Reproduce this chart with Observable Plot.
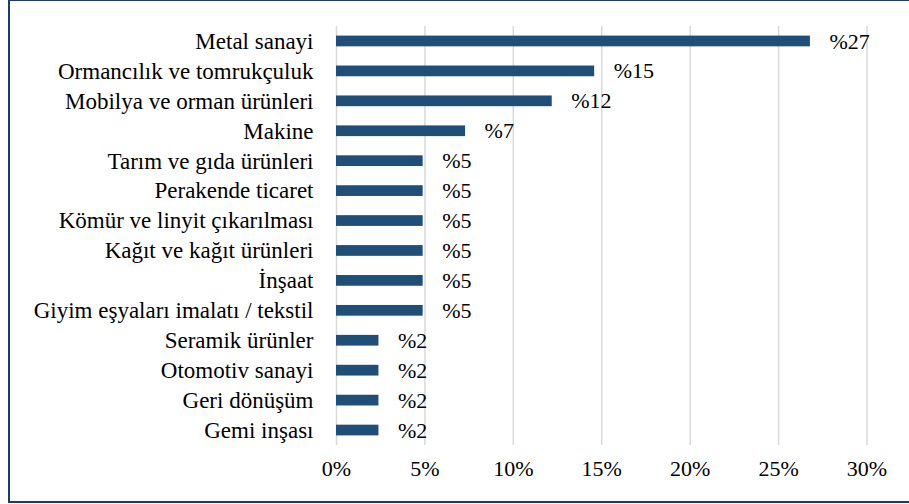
<!DOCTYPE html>
<html>
<head>
<meta charset="utf-8">
<script src="https://cdn.jsdelivr.net/npm/d3@7"></script>
<script src="https://cdn.jsdelivr.net/npm/@observablehq/plot@0.6"></script>
<style>
  html, body { margin: 0; padding: 0; background: #fff; }
  #wrap { position: relative; width: 909px; height: 504px; overflow: hidden; }
  #frame { position: absolute; left: 8px; top: -1px; width: 1000px; height: 504px;
           border: 2px solid #1f3a6e; box-sizing: border-box; pointer-events: none; }
  #chart { position: absolute; left: 0; top: 0; width: 909px; height: 504px; }
  #chart svg { display: block; }
</style>
</head>
<body>
<div id="wrap">
  <div id="chart"></div>
  <div id="frame"></div>
</div>
<script>
const categories = [
  "Metal sanayi",
  "Ormancılık ve tomrukçuluk",
  "Mobilya ve orman ürünleri",
  "Makine",
  "Tarım ve gıda ürünleri",
  "Perakende ticaret",
  "Kömür ve linyit çıkarılması",
  "Kağıt ve kağıt ürünleri",
  "İnşaat",
  "Giyim eşyaları imalatı / tekstil",
  "Seramik ürünler",
  "Otomotiv sanayi",
  "Geri dönüşüm",
  "Gemi inşası"
];
const values = [26.8, 14.6, 12.2, 7.3, 4.9, 4.9, 4.9, 4.9, 4.9, 4.9, 2.4, 2.4, 2.4, 2.4];
const valueLabels = ["%27", "%15", "%12", "%7", "%5", "%5", "%5", "%5", "%5", "%5", "%2", "%2", "%2", "%2"];
const xTicks = [0, 5, 10, 15, 20, 25, 30];

const data = categories.map((c, i) => ({category: c, value: values[i], label: valueLabels[i]}));
const serif = "'Liberation Serif', 'Times New Roman', Times, serif";

const chart = Plot.plot({
  width: 909,
  height: 504,
  marginLeft: 336,
  marginRight: 42.5,
  marginTop: 26,
  marginBottom: 59,
  style: {fontFamily: serif, fontSize: "22px", color: "#000", background: "transparent"},
  x: {domain: [0, 30], ticks: xTicks, tickFormat: d => d + "%"},
  y: {domain: categories, padding: 0, round: false},
  marks: [
    Plot.gridX(xTicks, {stroke: "#d9d9d9", strokeOpacity: 1, strokeWidth: 1.5}),
    Plot.barX(data, {x: "value", y: "category", fill: "#1f4e79", insetTop: 9.6, insetBottom: 9.6}),
    Plot.text(data, {x: "value", y: "category", text: "label", textAnchor: "start", dx: 19,
                     fontSize: 22, fontFamily: serif, fill: "#000"}),
    Plot.axisX({ticks: xTicks, tickFormat: d => d + "%", tickSize: 0, tickPadding: 15,
                fontSize: 22, fontFamily: serif, label: null}),
    Plot.axisY({tickSize: 0, tickPadding: 23, fontSize: 23, fontFamily: serif, label: null})
  ]
});
document.getElementById("chart").appendChild(chart);
</script>
</body>
</html>
